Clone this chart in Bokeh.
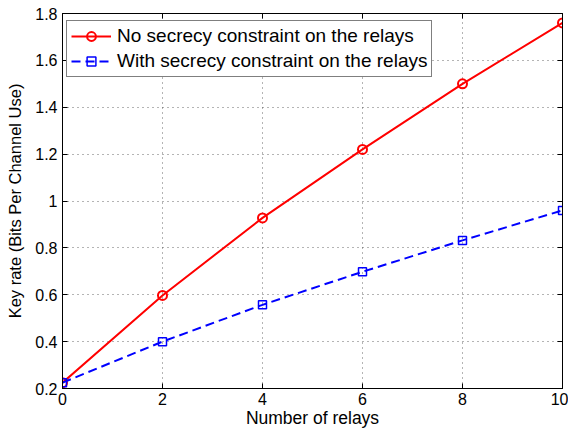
from bokeh.plotting import figure
from bokeh.models import FixedTicker, LinearAxis, CustomJSTickFormatter, Legend, LegendItem, Range1d
from bokeh.embed import file_html
from bokeh.resources import INLINE

relays = [0, 2, 4, 6, 8, 10]
no_constraint = [0.225, 0.597, 0.928, 1.220, 1.500, 1.760]
with_constraint = [0.225, 0.400, 0.557, 0.698, 0.832, 0.960]
x_ticks = [0, 2, 4, 6, 8, 10]
y_ticks = [0.2, 0.4, 0.6, 0.8, 1.0, 1.2, 1.4, 1.6, 1.8]
label_a = "No secrecy constraint on the relays"
label_b = "With secrecy constraint on the relays"

FONT = "Liberation Sans"

p = figure(width=568, height=432, x_range=Range1d(0, 10), y_range=Range1d(0.2, 1.8),
           output_backend="svg", toolbar_location=None,
           min_border_left=62, min_border_right=6, min_border_top=13, min_border_bottom=44,
           background_fill_color="white", border_fill_color="white")
p.outline_line_color = "black"
p.outline_line_width = 1

fmt = CustomJSTickFormatter(code="return parseFloat(tick.toFixed(2)).toString();")
blank = CustomJSTickFormatter(code="return '';")

for ax, ticks in ((p.xaxis[0], x_ticks), (p.yaxis[0], y_ticks)):
    ax.ticker = FixedTicker(ticks=ticks)
    ax.formatter = fmt
    ax.major_tick_in = 5
    ax.major_tick_out = 0
    ax.minor_tick_line_color = None
    ax.axis_line_color = "black"
    ax.major_tick_line_color = "black"
    ax.major_label_text_font = FONT
    ax.major_label_text_font_size = "16px"
    ax.major_label_text_color = "black"
    ax.axis_label_text_font = FONT
    ax.axis_label_text_font_style = "normal"
    ax.axis_label_text_color = "black"

p.xaxis[0].axis_label = "Number of relays"
p.xaxis[0].axis_label_text_font_size = "17.5px"
p.yaxis[0].axis_label = "Key rate (Bits Per Channel Use)"
p.yaxis[0].axis_label_text_font_size = "16.5px"
p.xaxis[0].major_label_standoff = 4
p.xaxis[0].axis_label_standoff = 0
p.yaxis[0].major_label_standoff = 5
p.yaxis[0].axis_label_standoff = 8

for loc, ticks in (("above", x_ticks), ("right", y_ticks)):
    ax = LinearAxis(ticker=FixedTicker(ticks=ticks), formatter=blank,
                    major_tick_in=5, major_tick_out=0,
                    minor_tick_line_color=None, major_label_text_font_size="1px",
                    major_label_standoff=0, axis_line_color="black",
                    major_tick_line_color="black")
    p.add_layout(ax, loc)

p.xgrid.ticker = FixedTicker(ticks=x_ticks)
p.ygrid.ticker = FixedTicker(ticks=y_ticks)
for g in (p.xgrid[0], p.ygrid[0]):
    g.grid_line_color = "#444444"
    g.grid_line_dash = "1 4"
    g.grid_line_width = 1
    g.grid_line_alpha = 0.8

r1 = p.line(relays, no_constraint, line_color="#ff0000", line_width=2)
m1 = p.scatter(relays, no_constraint, marker="circle", size=9, line_color="#ff0000",
               line_width=2, fill_color=None)
r2 = p.line(relays, with_constraint, line_color="#0000ff", line_width=2, line_dash="9 5")
m2 = p.scatter(relays, with_constraint, marker="square", size=8, line_color="#0000ff",
               line_width=1.5, fill_color=None)

legend = Legend(items=[LegendItem(label=label_a, renderers=[r1, m1]),
                       LegendItem(label=label_b, renderers=[r2, m2])],
                location=(4, 311), margin=0)
legend.label_text_font = FONT
legend.label_text_font_size = "19px"
legend.label_text_color = "black"
legend.glyph_width = 40
legend.glyph_height = 22
legend.label_standoff = 6
legend.label_height = 22
legend.spacing = 3
legend.padding = 4
legend.border_line_color = "black"
legend.border_line_width = 1
legend.background_fill_color = "white"
legend.background_fill_alpha = 1
p.add_layout(legend)

open("out.html", "w").write(file_html(p, INLINE))
